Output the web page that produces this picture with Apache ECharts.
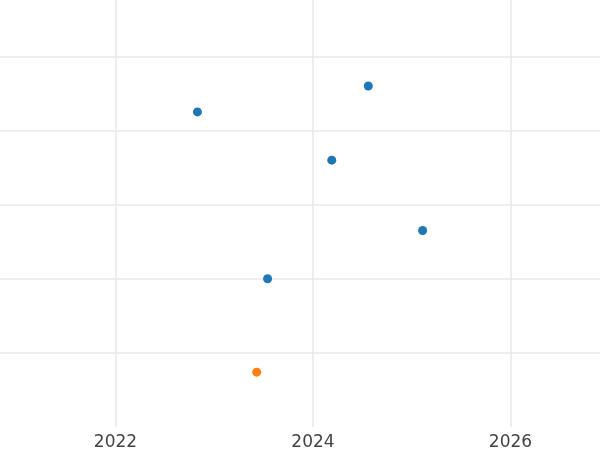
<!DOCTYPE html>
<html>
<head>
<meta charset="utf-8">
<script src="https://cdn.jsdelivr.net/npm/echarts@6/dist/echarts.min.js"></script>
<style>
  html, body { margin: 0; padding: 0; background: #fff; }
  #main { width: 600px; height: 450px; }
</style>
</head>
<body>
<div id="main"></div>
<script>
// blue points: [year, value]
var blueX = [2022.83, 2024.56, 2024.19, 2025.11, 2023.54];
var blueY = [3.25, 3.60, 2.60, 1.65, 1.00];
// orange point
var orangeX = [2023.43];
var orangeY = [-0.26];

function pairs(xs, ys) {
  var out = [];
  for (let i = 0; i < xs.length; i++) {
    out.push([xs[i], ys[i]]);
  }
  return out;
}

var chart = echarts.init(document.getElementById("main"));
chart.setOption({
  backgroundColor: "#fff",
  animation: false,
  grid: {
    left: -82,
    right: -108,
    top: 0,
    bottom: 23,
    containLabel: false,
    outerBoundsMode: "none"
  },
  xAxis: {
    type: "value",
    min: 2020,
    max: 2028,
    interval: 2,
    axisLine: { show: false },
    axisTick: { show: false },
    axisLabel: {
      color: "#444",
      fontSize: 17,
      fontFamily: "DejaVu Sans",
      margin: 7,
      formatter: function (v) { return String(v); }
    },
    splitLine: { show: true, lineStyle: { color: "#e8e8e8", width: 1.5 } }
  },
  yAxis: {
    type: "value",
    min: -1,
    max: 4.76,
    interval: 1,
    axisLine: { show: false },
    axisTick: { show: false },
    axisLabel: { show: false },
    splitLine: {
      show: true,
      showMinLine: false,
      showMaxLine: false,
      lineStyle: { color: "#e8e8e8", width: 1.5 }
    }
  },
  series: [
    {
      type: "scatter",
      symbolSize: 9,
      itemStyle: { color: "#1f77b4", opacity: 1 },
      data: pairs(blueX, blueY)
    },
    {
      type: "scatter",
      symbolSize: 9,
      itemStyle: { color: "#ff7f0e", opacity: 1 },
      data: pairs(orangeX, orangeY)
    }
  ]
});
</script>
</body>
</html>
